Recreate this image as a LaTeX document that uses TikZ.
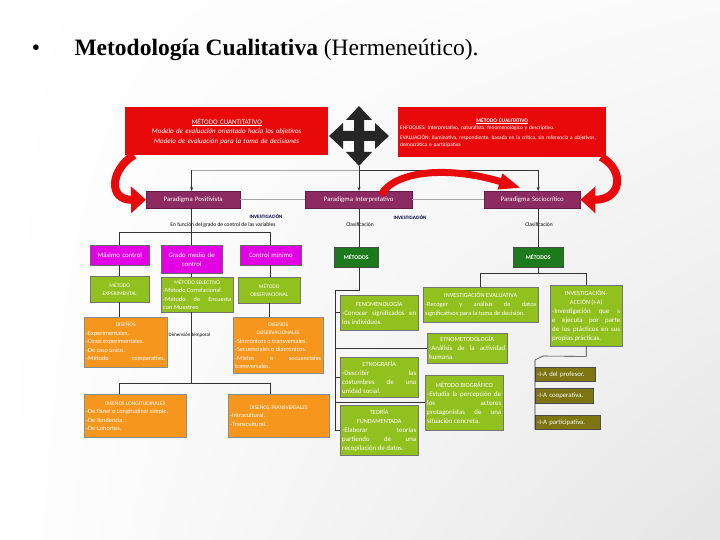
\documentclass[tikz,border=0pt]{standalone}
\usepackage{fontspec}
\setmainfont{Liberation Serif}
\newfontfamily\cb{Carlito}
\usetikzlibrary{arrows.meta,calc,shadings}
\definecolor{cred}{RGB}{232,10,10}
\definecolor{cpurp}{RGB}{140,42,98}
\definecolor{cmag}{RGB}{228,0,228}
\definecolor{cyg}{RGB}{146,192,30}
\definecolor{corg}{RGB}{247,150,28}
\definecolor{cdg}{RGB}{28,122,28}
\definecolor{coliv}{RGB}{125,116,18}
\newcommand\fsz[2]{\fontsize{#1}{#2}\selectfont}
\newcommand\ctr[1]{\makebox[\linewidth]{#1}}
\newcommand\hl[1]{\makebox[\linewidth]{\fsz{5.5}{8}#1}}
\newcommand\hr[1]{\makebox[\linewidth]{\fsz{6.3}{9}#1}}
\hyphenpenalty=10000
\exhyphenpenalty=10000
\tikzset{
  wh/.code 2 args={\pgfmathsetmacro\tw{#1-4}\edef\tmp{\noexpand\pgfkeysalso{minimum width=#1pt,minimum height=#2pt,text width=\tw pt}}\tmp},
  bx/.style={anchor=north west, inner xsep=2pt, inner ysep=1pt, text=white},
  redb/.style={bx, fill=cred},
  purb/.style={bx, fill=cpurp, draw=cpurp!70!black, line width=.4pt, align=center, font=\cb\fsz{6.8}{7.5}},
  magb/.style={bx, fill=cmag, draw=black!60, line width=.4pt, align=center, font=\cb\fsz{6.8}{9}},
  ygb/.style={bx, fill=cyg, draw=black!55, line width=.4pt, font=\cb\fsz{6.3}{8.2}},
  ygr/.style={bx, fill=cyg, draw=black!55, line width=.4pt, align=justify, font=\cb\fsz{6.9}{9}},
  orb/.style={bx, fill=corg, draw=black!45, line width=.4pt, align=justify, font=\cb\fsz{6.3}{8.5}},
  dgb/.style={bx, fill=cdg, draw=black!70, line width=.4pt, align=center, font=\cb\bfseries\fsz{5.8}{7}},
  olb/.style={bx, fill=coliv, draw=black!70, line width=.4pt, align=left, font=\cb\fsz{6.8}{7.5}},
  lbl/.style={font=\cb\fsz{5.5}{6}, inner sep=0.5pt},
  inv/.style={font=\cb\bfseries\fsz{5}{6}, text=black!75!blue, inner sep=0.5pt},
  ln/.style={draw=black!80, line width=0.6pt},
  gl/.style={draw=black!35, line width=0.6pt},
  redarr/.style={draw=cred, line width=8pt, -{Triangle[length=15pt,width=26pt]}},
  redmid/.style={draw=cred, line width=7pt, -{Triangle[length=22pt,width=15pt]}},
}
\begin{document}
\begin{tikzpicture}[x=1pt,y=-1pt]
\useasboundingbox (0,0) rectangle (720,540);
\shade[upper left=white, upper right=black!2, lower left=white, lower right=black!10] (0,0) rectangle (720,540);

% title
\node[anchor=base, font=\fsz{23.5}{28}] (bul) at (36,56) {•};
\node[anchor=base west, font=\fsz{23.5}{28}] (title) at (71,56) {\textbf{Metodología Cualitativa} (Hermeneútico).};

% red boxes
\node[redb, wh={203}{48}, align=center, font=\cb\fsz{7}{9.5}] (cuanti) at (125,107)
  {\underline{MÉTODO CUANTITATIVO}\\ \textit{Modelo de evaluación orientado hacia los objetivos}\\ \textit{Modelo de evaluación para la toma de decisiones}};
\node[redb, wh={208}{50}, align=left, font=\cb\fsz{5.4}{7}] (cuali) at (398,107)
  {\ctr{\textbf{\underline{MÉTODO CUALITATIVO}}}\\ ENFOQUES: Interpretativo, naturalista, fenomenológico y descriptivo.\\[3pt] EVALUACIÓN: Iluminativa, respondiente, basada en la crítica, sin referencia a objetivos, democrática e participativa};

% four-way arrow icon
\coordinate (icon) at (359,136);
\fill[black!85, shift={(359,136)}] (5,-5) -- (16,-5) -- (16,-13) -- (30,0) -- (16,13) -- (16,5) -- (5,5) -- (5,16) -- (13,16) -- (0,30) -- (-13,16) -- (-5,16) -- (-5,5) -- (-16,5) -- (-16,13) -- (-30,0) -- (-16,-13) -- (-16,-5) -- (-5,-5) -- (-5,-16) -- (-13,-16) -- (0,-30) -- (13,-16) -- (5,-16) -- cycle;
\coordinate (iconb) at (359,166);

% paradigms
\node[purb, wh={94}{17}] (posit) at (146,191) {Paradigma Positivista};
\node[purb, wh={107}{17}] (interp) at (305,191) {Paradigma Interpretativo};
\node[purb, wh={96}{17}] (socio) at (484,191) {Paradigma Sociocrítico};
\draw[gl] (posit.east) -- (interp.west);
\draw[gl] (interp.east) -- (socio.west);

% labels
\node[inv] (inv1) at (266,216) {INVESTIGACIÓN};
\node[inv] (inv2) at (410,217) {INVESTIGACIÓN};
\node[lbl] (clas1) at (360,225) {Clasificación};
\node[lbl] (clas2) at (539,225) {Clasificación};

% magenta
\node[magb, wh={59}{20}] (maxc) at (90,245) {Máximo control};
\node[magb, wh={61}{28}] (medio) at (161,245) {Grado medio de\\control};
\node[magb, wh={61}{20}] (minc) at (240,245) {Control mínimo};

% green left
\node[ygb, wh={59}{26}, align=center, font=\cb\fsz{5.5}{8}] (exper) at (90,276) {MÉTODO\\EXPERIMENTAL};
\node[ygb, wh={72}{35}, align=justify] (selec) at (161,277) {\hl{MÉTODO SELECTIVO}\par -Método Correlacional\par -Método de Encuesta\linebreak con Muestreo};
\node[ygb, wh={62}{26}, align=center, font=\cb\fsz{5.5}{8}] (observ) at (238,277) {MÉTODO\\OBSERVACIONAL};

% orange
\node[orb, wh={83}{50}] (dis1) at (84,317) {\hl{DISEÑOS}\par -Experimentales.\par -Cuasi experimentales.\par -De caso único.\par -Método\hfill comparativo.};
\node[orb, wh={90}{56}] (disobs) at (233,317) {\hl{DISEÑOS}\par\hl{OBSERVACIONALES}\par -Sincrónicos o transversales.\par -Secuenciales o diacrónicos.\par -Mixtos o secuenciales\linebreak transversales.};
\node[orb, wh={102}{43}] (dislong) at (84,394) {\hl{DISEÑOS LONGITUDINALES}\par -De Panel o Longitudinal simple.\par -De Tendencia.\par -De Cohortes.};
\node[orb, wh={101}{43}] (distrans) at (228,394) {\hl{DISEÑOS TRANSVERSALES}\par -Intracultural.\par -Transcultural.};

% dark green
\node[dgb, wh={44}{20}] (met1) at (334,247) {MÉTODOS};
\node[dgb, wh={50}{20}] (met2) at (513,247) {MÉTODOS};

% green right
\node[ygr, wh={78}{35}] (fenom) at (340,295) {\hr{FENOMENOLOGÍA}\par -Conocer significados en\linebreak los individuos.};
\node[ygr, wh={115}{35}, font=\cb\fsz{6.4}{9}] (inveval) at (423,287) {\hr{INVESTIGACIÓN EVALUATIVA}\par -Recoger y análisis de datos\linebreak significativos para la toma de decisión.};
\node[ygr, wh={72}{61}] (invacc) at (550,285) {\hr{INVESTIGACIÓN-}\par\hr{ACCIÓN (I-A)}\par -Investigación que s\linebreak e ejecuta por parte\linebreak de los prácticos en sus\linebreak propias prácticas.};
\node[ygr, wh={80}{30}] (etnomet) at (427,333) {\hr{ETNOMETODOLOGÍA}\par -Análisis de la actividad\linebreak humana.};
\node[ygr, wh={78}{40}] (etnog) at (340,357) {\hr{ETNOGRAFÍA}\par -Describir las\linebreak costumbres de una\linebreak unidad social.};
\node[ygr, wh={78}{55}] (biog) at (425,375) {\hr{MÉTODO BIOGRÁFICO}\par -Estudia la percepción de\linebreak los actores\linebreak protagonistas de una\linebreak situación concreta.};
\node[ygr, wh={78}{50}] (teoria) at (340,405) {\hr{TEORÍA}\par\hr{FUNDAMENTADA}\par -Elaborar teorías\linebreak partiendo de una\linebreak recopilación de datos.};

% olive
\node[olb, wh={60}{14}] (iap) at (535,367) {-I-A del profesor.};
\node[olb, wh={58}{15}] (iac) at (535,388) {-I-A cooperativa.};
\node[olb, wh={65}{14}] (iapart) at (535,415) {-I-A participativa.};

% top distribution from the icon
\coordinate (hub) at (359,170);
\draw[ln] (iconb) -- (hub);
\draw[gl] (hub) -- (hub -| medio.north);
\draw[ln] (hub) -- (hub -| met2.north);
\draw[ln,-{Stealth[length=4pt]}] (hub -| medio.north) -- (medio.north |- posit.north);
\draw[ln,-{Stealth[length=4pt]}] (hub) -- (hub |- interp.north);
\draw[ln,-{Stealth[length=4pt]}] (hub -| met2.north) -- (met2.north |- socio.north);

% red curved arrows
\coordinate (ra1) at (134,155);
\coordinate (ra2) at (381,195);
\coordinate (ra2e) at (521,188);
\coordinate (ra3) at (601,157);
\draw[redarr] (ra1) .. controls (110,170) and (108,200) .. (posit.west);
\draw[redmid] (ra2) .. controls (395,170) and (450,166) .. (ra2e);
\draw[redarr] (ra3) .. controls (625,170) and (622,200) .. (socio.east);

% left tree
\draw[ln] (medio.north |- posit.south) -- (medio.north);
\draw[ln] (maxc.north) -- ++(0,-13) -- ([yshift=13pt]minc.north) -- (minc.north);
\node[lbl] (func) at (223,225) {En función del grado de control de las variables};
\draw[ln] (maxc.south) -- (exper.north);
\draw[ln] (medio.south) -- (medio.south |- selec.north);
\draw[ln] (minc.south) -- (minc.south |- observ.north);
\draw[ln] (exper.south) -- (exper.south |- dis1.north);
\draw[ln] (observ.south) -- (observ.south |- disobs.north);
\coordinate (jb) at ($(selec.south -| medio.south)+(0,71)$);
\draw[ln] (selec.south -| medio.south) -- (jb);
\draw[ln] (jb -| exper.south) -- (jb -| minc.south);
\draw[ln] (jb -| exper.south) -- (dislong.north -| exper.south);
\draw[ln] (jb -| minc.south) -- (distrans.north -| minc.south);
\node[lbl, anchor=west, font=\cb\fsz{5}{6}] (temp) at (168,335) {Dimensión temporal};

% interpretativo tree
\draw[ln] (interp.south -| hub) -- (hub |- met1.north);
\coordinate (spt) at (335,290);
\coordinate (spb) at (spt |- teoria.west);
\draw[ln] (hub |- met1.south) |- (spt) -- (spb) -- (teoria.west);
\draw[ln] (spt |- fenom.west) -- (fenom.west);
\draw[ln] (spt |- etnog.west) -- (etnog.west);
\draw[ln] (spt |- etnomet.west) -- (etnomet.west);
\draw[ln] (spt |- biog.west) -- (biog.west);

% sociocritico tree
\draw[ln] (socio.south -| met2.north) -- (met2.north);
\coordinate (js) at ($(met2.south)+(0,6)$);
\draw[ln] (met2.south) -- (js);
\draw[ln] (js -| inveval.north) -- (js -| invacc.north);
\draw[ln] (js -| inveval.north) -- (inveval.north);
\draw[ln] (js -| invacc.north) -- (invacc.north);
\draw[ln] (invacc.south) -- ++(0,10) -- ($(iap.north west)+(8,-11)$) -- ($(iap.north west)+(0,-7)$) -- (iapart.south west);
\end{tikzpicture}
\end{document}
